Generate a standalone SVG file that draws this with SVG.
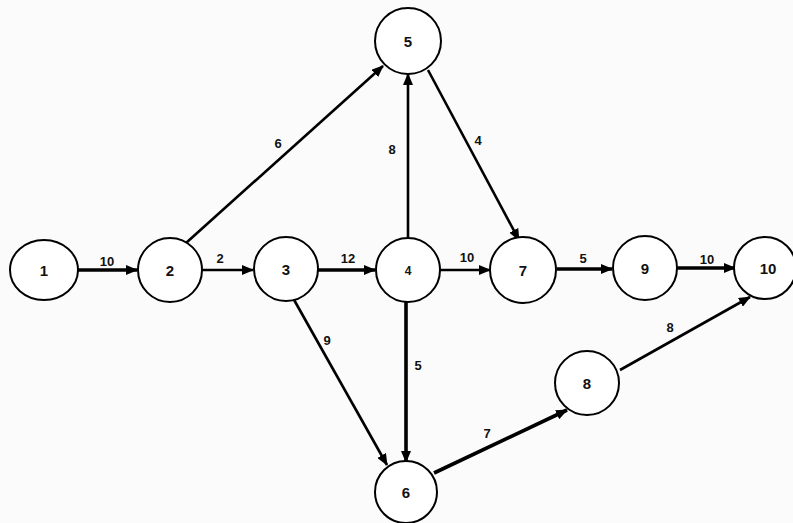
<svg xmlns="http://www.w3.org/2000/svg" width="793" height="523" viewBox="0 0 793 523">
<defs>
<marker id="ah" markerUnits="userSpaceOnUse" markerWidth="12" markerHeight="10" refX="11" refY="5" orient="auto">
<path d="M0,0 L12,5 L0,10 z" fill="#000"/>
</marker>
<style>
.node circle, .node ellipse { fill: #fff; stroke: #000; stroke-width: 2; }
.node text { font-family: "Liberation Sans", Arial, sans-serif; font-weight: bold; font-size: 15px; text-anchor: middle; fill: #111; }
.edge { stroke: #000; fill: none; marker-end: url(#ah); }
.w3 { stroke-width: 2.6; }
.w4 { stroke-width: 3.6; }
.lbl { font-family: "Liberation Sans", Arial, sans-serif; font-weight: bold; font-size: 13px; text-anchor: middle; fill: #111; }
</style>
</defs>
<rect width="793" height="523" fill="#fbfbfb"/>
<g id="connectors">
<line class="edge w4" x1="78" y1="270" x2="137" y2="270"/>
<line class="edge w3" x1="202" y1="270" x2="253" y2="270"/>
<line class="edge w4" x1="318" y1="270" x2="375" y2="270"/>
<line class="edge w3" x1="440" y1="270" x2="490" y2="270"/>
<line class="edge w4" x1="557" y1="269" x2="612" y2="269"/>
<line class="edge w4" x1="677" y1="268" x2="735" y2="268"/>
<line class="edge w3" x1="186" y1="243" x2="383" y2="66"/>
<line class="edge w3" x1="408" y1="240" x2="408" y2="74"/>
<line class="edge w3" x1="428" y1="70" x2="519" y2="240"/>
<line class="edge w3" x1="293" y1="298" x2="387" y2="465"/>
<line class="edge w4" x1="406" y1="300" x2="406" y2="462"/>
<line class="edge w4" x1="434" y1="473" x2="567" y2="410"/>
<line class="edge w3" x1="620" y1="370" x2="750" y2="297"/>
<text class="lbl" x="107" y="266">10</text>
<text class="lbl" x="220" y="263">2</text>
<text class="lbl" x="348" y="263">12</text>
<text class="lbl" x="467" y="262">10</text>
<text class="lbl" x="583" y="263">5</text>
<text class="lbl" x="707" y="264">10</text>
<text class="lbl" x="278" y="148">6</text>
<text class="lbl" x="392" y="154">8</text>
<text class="lbl" x="478" y="145">4</text>
<text class="lbl" x="327" y="345">9</text>
<text class="lbl" x="418" y="370">5</text>
<text class="lbl" x="487" y="438">7</text>
<text class="lbl" x="670" y="332">8</text>
</g>
<g id="n1" class="node"><ellipse cx="44" cy="270" rx="34" ry="30"/><text x="44" y="276">1</text></g>
<g id="n2" class="node"><circle cx="170" cy="270" r="32"/><text x="170" y="276">2</text></g>
<g id="n3" class="node"><circle cx="286" cy="269" r="32"/><text x="286" y="275">3</text></g>
<g id="n4" class="node"><circle cx="408" cy="270" r="32"/><text x="408" y="275" style="font-size:12px">4</text></g>
<g id="n5" class="node"><circle cx="408" cy="41" r="33"/><text x="408" y="47">5</text></g>
<g id="n6" class="node"><circle cx="406" cy="492" r="31"/><text x="406" y="498">6</text></g>
<g id="n7" class="node"><circle cx="523" cy="270" r="33"/><text x="523" y="276">7</text></g>
<g id="n8" class="node"><circle cx="587" cy="383" r="32"/><text x="587" y="389">8</text></g>
<g id="n9" class="node"><circle cx="645" cy="268" r="32"/><text x="645" y="274">9</text></g>
<g id="n10" class="node"><circle cx="765" cy="268" r="31"/><text x="768" y="274">10</text></g>
</svg>
